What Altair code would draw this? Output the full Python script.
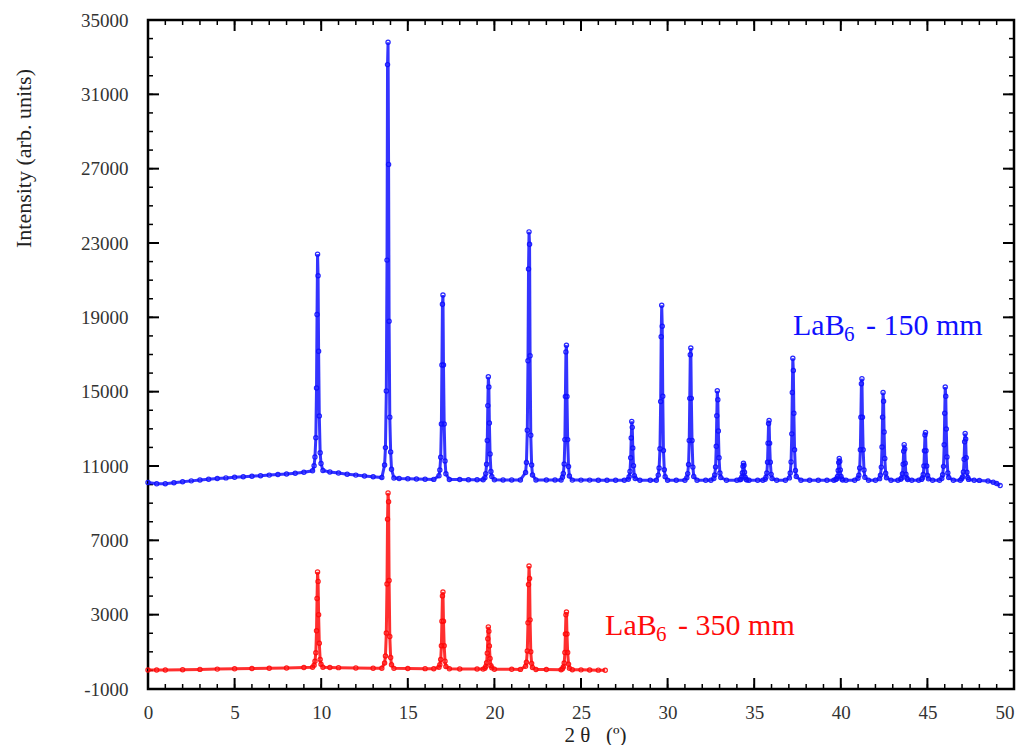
import altair as alt
import pandas as pd

BLUE = "#1010ff"
RED = "#ff0a0a"
FONT = "Liberation Serif"

# ---------------- data ----------------
X_MAJOR = list(range(0, 51, 5))
X_MINOR = list(range(0, 51, 1))
Y_MAJOR = list(range(-1000, 35001, 4000))
Y_MINOR = list(range(-1000, 35001, 1000))

X_TITLE = "2\u00a0θ\u00a0\u00a0\u00a0(º)"
Y_TITLE = "Intensity (arb. units)"

PEAK_OFFSETS = [-0.2, -0.15, -0.1, -0.06, -0.03, 0.0, 0.03, 0.06, 0.1, 0.15, 0.2]

BLUE_BASELINE = [
    (0.0, 10110), (0.5, 10040), (1.0, 10050), (1.5, 10100), (2.0, 10150), (2.5, 10200),
    (3.0, 10250), (3.5, 10290), (4.0, 10330), (4.5, 10360), (5.0, 10390), (5.5, 10420),
    (6.0, 10450), (6.5, 10480), (7.0, 10510), (7.5, 10540), (8.0, 10570), (8.5, 10610),
    (9.0, 10660), (9.5, 10740), (10.1, 10760), (10.5, 10680), (11.0, 10620), (11.5, 10560),
    (12.0, 10510), (12.5, 10460), (13.0, 10420), (13.5, 10380), (14.2, 10350), (14.5, 10330),
    (15.0, 10310), (15.5, 10300), (16.0, 10290), (16.5, 10280), (17.4, 10270), (18.0, 10270),
    (18.5, 10260), (19.0, 10260), (19.35, 10260), (20.0, 10255), (20.5, 10250), (21.0, 10250),
    (21.5, 10250), (22.4, 10250), (23.0, 10245), (23.5, 10245), (23.85, 10240), (24.5, 10240),
    (25.0, 10240), (25.5, 10240), (26.0, 10235), (26.5, 10235), (27.0, 10235), (27.5, 10235),
    (28.4, 10235), (29.0, 10235), (29.35, 10235), (30.0, 10235), (30.5, 10235), (31.0, 10230),
    (31.7, 10230), (32.2, 10230), (32.5, 10230), (33.4, 10230), (34.0, 10230), (34.7, 10230),
    (35.2, 10230), (35.5, 10230), (36.3, 10230), (36.8, 10230), (37.7, 10230), (38.2, 10230),
    (38.7, 10230), (39.2, 10230), (39.6, 10230), (40.3, 10230), (40.8, 10230), (41.6, 10230),
    (42.0, 10230), (42.9, 10230), (43.3, 10230), (44.1, 10230), (44.5, 10230), (45.3, 10230),
    (45.7, 10230), (46.5, 10230), (46.9, 10230), (47.7, 10230), (48.0, 10225), (48.5, 10190),
    (48.8, 10130), (49.0, 10060), (49.2, 9950),
]

BLUE_PEAKS = [
    (9.79, [11010, 11480, 12520, 15200, 19150, 22400, 21240, 17170, 13690, 11710, 11130]),
    (13.86, [11050, 11990, 15040, 22080, 32600, 33800, 27230, 18790, 13630, 11760, 10820]),
    (17.00, [10480, 10780, 11470, 13260, 16430, 19700, 20200, 16430, 13260, 11270, 10580]),
    (19.65, [10370, 10590, 11090, 12370, 14250, 15800, 15250, 13310, 11650, 10700, 10430]),
    (22.00, [10650, 11190, 12920, 16660, 21600, 23600, 22930, 16930, 12650, 11050, 10520]),
    (24.13, [10390, 10600, 11110, 12420, 14740, 17140, 17500, 14740, 12420, 10970, 10460]),
    (27.93, [10290, 10420, 10710, 11440, 12510, 13400, 13080, 11970, 11020, 10480, 10330]),
    (29.66, [10510, 10890, 11930, 14470, 17950, 19650, 18520, 14750, 11830, 10800, 10420]),
    (31.31, [10370, 10590, 11080, 12370, 14640, 16990, 17350, 14640, 12370, 10940, 10440]),
    (32.87, [10330, 10520, 10950, 12060, 13700, 15050, 14570, 12880, 11440, 10620, 10380]),
    (34.38, [10260, 10290, 10400, 10640, 10980, 11150, 11040, 10670, 10390, 10290, 10250]),
    (35.83, [10290, 10390, 10620, 11200, 12230, 13290, 13450, 12230, 11200, 10550, 10330]),
    (37.23, [10360, 10620, 11220, 12730, 14960, 16800, 16140, 13840, 11870, 10760, 10430]),
    (39.91, [10270, 10310, 10440, 10760, 11190, 11400, 11260, 10790, 10430, 10300, 10250]),
    (41.19, [10340, 10500, 10890, 11870, 13620, 15430, 15700, 13620, 11870, 10780, 10390]),
    (42.44, [10320, 10510, 10940, 12020, 13630, 14950, 14480, 12830, 11410, 10610, 10370]),
    (43.66, [10290, 10360, 10580, 11090, 11800, 12150, 11920, 11150, 10560, 10350, 10270]),
    (44.86, [10280, 10360, 10540, 11000, 11820, 12670, 12800, 11820, 11000, 10490, 10310]),
    (46.03, [10330, 10530, 10980, 12140, 13840, 15250, 14750, 12990, 11490, 10630, 10380]),
    (47.18, [10310, 10410, 10680, 11360, 12300, 12750, 12450, 11440, 10660, 10380, 10280]),
]

RED_BASELINE = [
    (0.0, 20), (0.5, 20), (1.0, 25), (2.0, 40), (3.0, 55), (4.0, 70), (5.0, 85), (6.0, 100),
    (7.0, 115), (8.0, 130), (9.0, 155), (9.5, 175), (10.1, 170), (10.5, 160), (11.0, 150),
    (12.0, 135), (13.0, 120), (13.5, 115), (14.2, 110), (15.0, 100), (16.0, 95), (16.5, 90),
    (17.4, 85), (18.0, 80), (19.0, 75), (19.35, 70), (20.0, 65), (21.0, 60), (21.5, 55),
    (22.4, 50), (23.0, 45), (23.85, 40), (24.5, 35), (25.0, 30), (25.5, 25), (26.0, 15),
    (26.4, 10),
]

RED_PEAKS = [
    (9.79, [280, 490, 950, 2130, 3870, 5300, 4790, 3000, 1460, 590, 330]),
    (13.86, [400, 780, 2010, 4650, 8140, 9550, 9080, 4840, 1820, 690, 310]),
    (17.00, [170, 300, 590, 1330, 2650, 4010, 4220, 2650, 1330, 500, 210]),
    (19.65, [120, 210, 410, 930, 1700, 2340, 2110, 1320, 640, 250, 140]),
    (22.00, [220, 440, 1050, 2560, 4620, 5620, 4950, 2720, 1000, 380, 160]),
    (24.13, [90, 190, 400, 960, 1960, 2990, 3140, 1960, 960, 340, 120]),
]

LABEL_SERIES = ["150 mm", "350 mm"]
LABEL_X = [37.24, 26.39]
LABEL_Y = [18050, 1906]
LABEL_MAIN = ["LaB", "LaB"]
LABEL_SUB = ["6", "6"]
LABEL_REST = ["- 150 mm", "- 350 mm"]


def build(baseline, peaks):
    pts = list(baseline) + [
        (round(c + o, 3), v) for c, vals in peaks for o, v in zip(PEAK_OFFSETS, vals)
    ]
    pts.sort()
    return pd.DataFrame(pts, columns=["x", "y"])


blue = build(BLUE_BASELINE, BLUE_PEAKS)
red = build(RED_BASELINE, RED_PEAKS)
labels = pd.DataFrame({
    "series": LABEL_SERIES, "x": LABEL_X, "y": LABEL_Y,
    "main": LABEL_MAIN, "sub": LABEL_SUB, "rest": LABEL_REST,
})
x_major = pd.DataFrame({"x": X_MAJOR})
x_minor = pd.DataFrame({"x": X_MINOR})
y_major = pd.DataFrame({"y": Y_MAJOR})
y_minor = pd.DataFrame({"y": Y_MINOR})

# ---------------- layout ----------------
W, H = 866, 669
MAJOR_LEN, MINOR_LEN = 11, 5
XS = alt.Scale(domain=[0, 50], nice=False, zero=False)
YS = alt.Scale(domain=[-1000, 35000], nice=False, zero=False)

X_AXIS = alt.Axis(
    orient="bottom", values=X_MAJOR, ticks=False, domain=False, grid=False,
    labelFont=FONT, labelFontSize=19, labelColor="#333333", labelPadding=14,
    labelFlush=False, labelOverlap=False,
    labelAlign=alt.condition("datum.value == 50", alt.value("right"), alt.value("center")),
    title=X_TITLE, titleFont=FONT, titleFontSize=21, titleFontWeight="normal",
    titleColor="#222222", titleX=447, titleY=46, titleBaseline="middle", titleAlign="center",
)
Y_AXIS = alt.Axis(
    orient="left", values=Y_MAJOR, ticks=False, domain=False, grid=False,
    labelExpr="datum.value < 0 ? '-' + abs(datum.value) : '' + datum.value",
    labelFont=FONT, labelFontSize=19, labelColor="#333333", labelPadding=20,
    labelFlush=False, labelOverlap=False,
    title=Y_TITLE, titleFont=FONT, titleFontSize=22, titleFontWeight="normal",
    titleColor="#222222", titleX=-125, titleY=138, titleAngle=270,
    titleBaseline="middle", titleAlign="center",
)


def X():
    return alt.X("x:Q", scale=XS, axis=X_AXIS)


def Y():
    return alt.Y("y:Q", scale=YS, axis=Y_AXIS)


def xticks(df, y0, y1, width):
    return alt.Chart(df).mark_rule(color="black", strokeWidth=width).encode(
        x=X(), y=alt.value(y0), y2=alt.value(y1))


def yticks(df, x0, x1, width):
    return alt.Chart(df).mark_rule(color="black", strokeWidth=width).encode(
        y=Y(), x=alt.value(x0), x2=alt.value(x1))


tick_layers = [
    xticks(x_minor, H, H - MINOR_LEN, 1.5),
    xticks(x_major, H, H - MAJOR_LEN, 2),
    xticks(x_minor, 0, MINOR_LEN, 1.5),
    xticks(x_major, 0, MAJOR_LEN, 2),
    yticks(y_minor, 0, MINOR_LEN, 1.5),
    yticks(y_major, 0, MAJOR_LEN, 2),
    yticks(y_minor, W, W - MINOR_LEN, 1.5),
    yticks(y_major, W, W - MAJOR_LEN, 2),
]

color_scale = alt.Scale(domain=LABEL_SERIES, range=[BLUE, RED])

blue_line = alt.Chart(blue).mark_line(color=BLUE, strokeWidth=3, opacity=0.85).encode(
    x=X(), y=Y())
red_line = alt.Chart(red).mark_line(color=RED, strokeWidth=3, opacity=0.85).encode(
    x=X(), y=Y())
blue_pts = alt.Chart(blue).mark_point(color=BLUE, filled=False, size=18, strokeWidth=1.2,
                                      opacity=0.9).encode(x=X(), y=Y())
red_pts = alt.Chart(red).mark_point(color=RED, filled=False, size=18, strokeWidth=1.2,
                                    opacity=0.9).encode(x=X(), y=Y())
txt_main = alt.Chart(labels).mark_text(font=FONT, fontSize=30, align="left",
                                       baseline="alphabetic").encode(
    x=X(), y=Y(), text="main:N",
    color=alt.Color("series:N", scale=color_scale, legend=None),
)
txt_sub = alt.Chart(labels).mark_text(font=FONT, fontSize=21, align="left",
                                      baseline="alphabetic", dx=51, dy=6).encode(
    x=X(), y=Y(), text="sub:N",
    color=alt.Color("series:N", scale=color_scale, legend=None),
)
txt_rest = alt.Chart(labels).mark_text(font=FONT, fontSize=30, align="left",
                                       baseline="alphabetic", dx=73).encode(
    x=X(), y=Y(), text="rest:N",
    color=alt.Color("series:N", scale=color_scale, legend=None),
)

chart = alt.layer(
    *tick_layers, blue_line, red_line, blue_pts, red_pts, txt_main, txt_sub, txt_rest
).properties(
    width=W, height=H, background="white",
    autosize=alt.AutoSizeParams(type="none"),
    padding={"left": 140, "top": 12, "right": 4, "bottom": 56},
).configure_view(
    stroke="black", strokeWidth=2.5
)

chart.save("out.html", embed_options={"renderer": "svg", "actions": False})
